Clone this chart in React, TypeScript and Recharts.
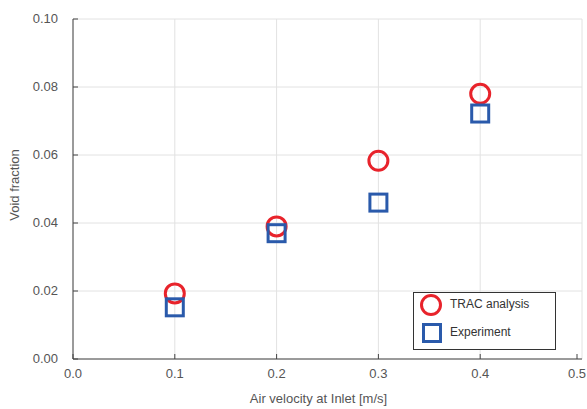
import React from 'react';
import { ScatterChart, Scatter, XAxis, YAxis, CartesianGrid, Legend } from 'recharts';

// values
const velocities = [0.1, 0.2, 0.3, 0.4];
const tracValues = [0.0193, 0.039, 0.0583, 0.078];
const experimentValues = [0.0152, 0.037, 0.046, 0.0722];
const xTicks = [0, 0.1, 0.2, 0.3, 0.4, 0.5];
const yTicks = [0, 0.02, 0.04, 0.06, 0.08, 0.1];
const seriesNames = ['TRAC analysis', 'Experiment'];

const tracData = velocities.map((v, i) => ({ x: v, y: tracValues[i] }));
const experimentData = velocities.map((v, i) => ({ x: v, y: experimentValues[i] }));

const RED = '#e8232b';
const BLUE = '#2a5aab';
const FRAME = '#444';
const TEXT = '#555';
const FONT = '"Liberation Sans", Arial, sans-serif';

const CircleMark = (props: any) => (
  <circle cx={props.cx} cy={props.cy} r={9.5} fill="none" stroke={RED} strokeWidth={3} />
);

const SquareMark = (props: any) => (
  <rect x={props.cx - 8.5} y={props.cy - 8.5} width={17} height={17} fill="none" stroke={BLUE} strokeWidth={3} />
);

const BottomTick = (props: any) => {
  const { x, y, payload } = props;
  return (
    <g>
      <line x1={x} y1={y} x2={x} y2={y - 5} stroke={FRAME} />
      <text x={x} y={y + 19} textAnchor="middle" fill={TEXT} fontSize={13} fontFamily={FONT}>
        {Number(payload.value).toFixed(1)}
      </text>
    </g>
  );
};

const LeftTick = (props: any) => {
  const { x, y, payload } = props;
  return (
    <g>
      <line x1={x} y1={y} x2={x + 5} y2={y} stroke={FRAME} />
      <text x={x - 15} y={y + 4} textAnchor="end" fill={TEXT} fontSize={13} fontFamily={FONT}>
        {Number(payload.value).toFixed(2)}
      </text>
    </g>
  );
};

const TopTick = (props: any) => (
  <line x1={props.x} y1={props.y} x2={props.x} y2={props.y + 5} stroke={FRAME} />
);

const RightTick = (props: any) => (
  <line x1={props.x} y1={props.y} x2={props.x - 5} y2={props.y} stroke={FRAME} />
);

const LegendBox = () => (
  <div style={{ fontFamily: FONT, fontSize: 12, color: '#333', marginTop: -2 }}>
    {seriesNames.map((name, i) => (
      <div key={name} style={{ display: 'flex', alignItems: 'center', height: 28 }}>
        <svg width={36} height={24} style={{ flex: 'none' }}>
          {i === 0 ? (
            <circle cx={17} cy={12} r={9.5} fill="none" stroke={RED} strokeWidth={3} />
          ) : (
            <rect x={9.5} y={3.5} width={17} height={17} fill="none" stroke={BLUE} strokeWidth={3} />
          )}
        </svg>
        <span style={{ marginTop: -2 }}>{name}</span>
      </div>
    ))}
  </div>
);

export default function App() {
  return (
    <div style={{ position: 'absolute', left: 0, top: 0, background: '#fff' }}>
      <ScatterChart width={587} height={409} margin={{ top: 19, right: 5, bottom: 0, left: 1 }}>
        <CartesianGrid stroke="#e2e2e2" strokeWidth={1} />
        <XAxis
          dataKey="x"
          type="number"
          domain={[0, 0.5]}
          ticks={xTicks}
          height={50}
          stroke={FRAME}
          tickSize={0}
          tickMargin={0}
          tick={<BottomTick />}
          label={{ value: 'Air velocity at Inlet [m/s]', position: 'insideBottom', offset: 6, dx: -9, fill: TEXT, fontSize: 13, fontFamily: FONT }}
        />
        <XAxis
          xAxisId="top"
          orientation="top"
          dataKey="x"
          type="number"
          domain={[0, 0.5]}
          ticks={xTicks}
          height={0}
          stroke={FRAME}
          tickSize={0}
          tickMargin={0}
          tick={<TopTick />}
        />
        <YAxis
          dataKey="y"
          type="number"
          domain={[0, 0.1]}
          ticks={yTicks}
          width={72}
          stroke={FRAME}
          tickSize={0}
          tickMargin={0}
          tick={<LeftTick />}
          label={{ value: 'Void fraction', angle: -90, position: 'insideLeft', offset: 13, dy: -4, fill: TEXT, fontSize: 13, fontFamily: FONT, style: { textAnchor: 'middle' } }}
        />
        <YAxis
          yAxisId="right"
          orientation="right"
          dataKey="y"
          type="number"
          domain={[0, 0.1]}
          ticks={yTicks}
          width={0}
          stroke={FRAME}
          tickSize={0}
          tickMargin={0}
          tick={<RightTick />}
        />
        <Legend
          layout="horizontal"
          verticalAlign="middle"
          align="center"
          content={<LegendBox />}
          wrapperStyle={{
            position: 'absolute',
            left: 413,
            top: 292,
            bottom: 'auto',
            width: 143,
            height: 58,
            boxSizing: 'border-box',
            border: '1px solid #333',
            background: '#fff',
          }}
        />
        <Scatter name={seriesNames[0]} data={tracData} shape={<CircleMark />} isAnimationActive={false} />
        <Scatter name={seriesNames[1]} data={experimentData} shape={<SquareMark />} isAnimationActive={false} />
      </ScatterChart>
    </div>
  );
}
